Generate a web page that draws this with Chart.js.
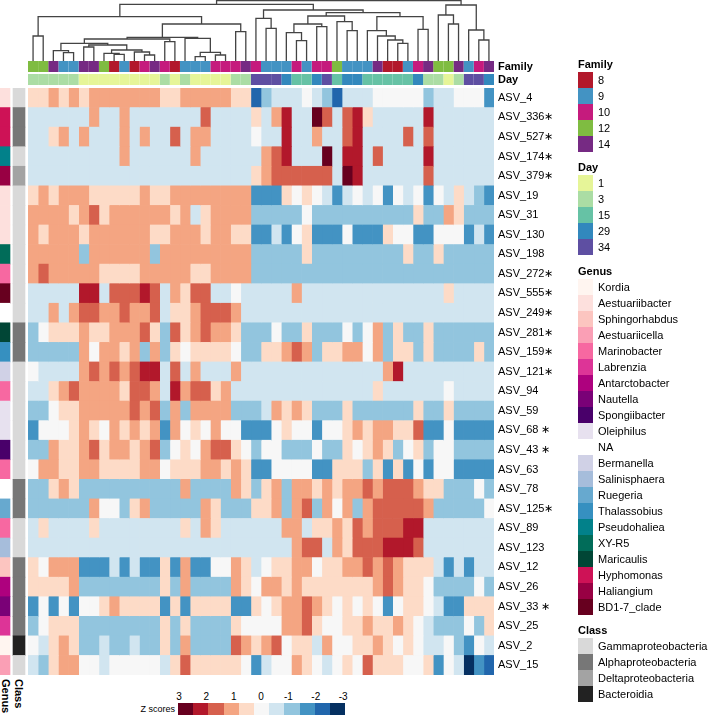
<!DOCTYPE html>
<html>
<head>
<meta charset="utf-8">
<title>ASV heatmap</title>
<script src="https://cdn.jsdelivr.net/npm/chart.js@4.4.1/dist/chart.umd.min.js"></script>
<style>
  body { margin: 0; background: #fff; }
  #page { position: relative; width: 710px; height: 715px; overflow: hidden;
          font-family: "Liberation Sans", Arial, Helvetica, sans-serif; color: #000; }
  #page canvas { position: absolute; }
  .lab { position: absolute; font-size: 11px; line-height: 16px; white-space: nowrap; }
  .ttl { position: absolute; font-size: 11px; font-weight: bold; line-height: 14px; white-space: nowrap; }
  .sw { position: absolute; width: 15px; height: 16px; }
  .vert { position: absolute; writing-mode: vertical-rl; font-size: 11px; font-weight: bold; line-height: 11px; }
  .key { position: absolute; font-size: 9px; line-height: 10px; white-space: nowrap; }
</style>
</head>
<body>
<div id="page">
  <canvas id="dendro" width="710" height="61" style="left:0;top:0"></canvas>
  <canvas id="annot" width="710" height="26" style="left:0;top:60px"></canvas>
  <canvas id="side" width="26" height="587" style="left:0;top:88px"></canvas>
  <canvas id="heat" width="710" height="587" style="left:0;top:88px"></canvas>
</div>
<script>
// rows (ASVs) top to bottom
const rowLabels = ["ASV_4", "ASV_336\u2217", "ASV_527\u2217", "ASV_174\u2217", "ASV_379\u2217", "ASV_19", "ASV_31",
  "ASV_130", "ASV_198", "ASV_272\u2217", "ASV_555\u2217", "ASV_249\u2217", "ASV_281\u2217", "ASV_159\u2217",
  "ASV_121\u2217", "ASV_94", "ASV_59", "ASV_68 \u2217", "ASV_43 \u2217", "ASV_63", "ASV_78", "ASV_125\u2217",
  "ASV_89", "ASV_123", "ASV_12", "ASV_26", "ASV_33 \u2217", "ASV_25", "ASV_2", "ASV_15"];

const rowGenus = ["Aestuariibacter", "Hyphomonas", "Hyphomonas", "Pseudohaliea", "Haliangium", "Aestuariibacter",
  "Aestuariibacter", "Aestuariibacter", "XY-R5", "Marinobacter", "BD1-7_clade", "NA", "Maricaulis", "Thalassobius",
  "Bermanella", "Marinobacter", "Oleiphilus", "Oleiphilus", "Spongiibacter", "Marinobacter", "NA", "Ruegeria",
  "Marinobacter", "Salinisphaera", "Sphingorhabdus", "Antarctobacter", "Nautella", "Labrenzia", "Kordia", "Aestuariicella"];

const rowClass = ["Gammaproteobacteria", "Alphaproteobacteria", "Alphaproteobacteria", "Gammaproteobacteria",
  "Deltaproteobacteria", "Gammaproteobacteria", "Gammaproteobacteria", "Gammaproteobacteria", "Gammaproteobacteria",
  "Gammaproteobacteria", "Gammaproteobacteria", "Gammaproteobacteria", "Alphaproteobacteria", "Alphaproteobacteria",
  "Gammaproteobacteria", "Gammaproteobacteria", "Gammaproteobacteria", "Gammaproteobacteria", "Gammaproteobacteria",
  "Gammaproteobacteria", "Alphaproteobacteria", "Alphaproteobacteria", "Gammaproteobacteria", "Gammaproteobacteria",
  "Alphaproteobacteria", "Alphaproteobacteria", "Alphaproteobacteria", "Alphaproteobacteria", "Bacteroidia",
  "Gammaproteobacteria"];

// samples (columns) left to right
const colFamily = ["12", "12", "14", "9", "9", "14", "14", "12", "8", "9", "8", "10", "14", "10", "8", "9", "9", "9",
  "10", "10", "10", "14", "10", "9", "9", "9", "10", "9", "10", "10", "12", "9", "9", "9", "14", "8", "8", "9", "10",
  "14", "12", "12", "14", "9", "10", "14"];
const colDay = ["3", "3", "3", "3", "3", "1", "1", "1", "1", "1", "1", "1", "1", "3", "1", "3", "1", "1", "1", "1",
  "3", "3", "34", "34", "34", "29", "15", "15", "29", "34", "15", "29", "29", "15", "15", "15", "15", "15", "29", "3",
  "3", "1", "3", "34", "34", "29"];

// z scores, one array per row
const zScores = [
  [.5,.5,1,.5,1,.5,1,1,1,1,1,1,1,.5,.5,1,1,1,1,1,.5,.5,-2,-1,-.5,-.5,-.5,0,-.5,-1,-2,-.5,-.5,-.5,0,0,0,0,0,-1,-.5,-.5,0,0,0,-1.5],
  [-.5,-.5,-.5,-.5,-.5,-.5,1,-.5,-.5,1,-.5,-.5,-.5,-.5,-.5,-.5,-.5,1.5,-.5,-.5,-.5,-.5,.5,-.5,1,2,-.5,-.5,3,1.5,-.5,1.5,2,.5,-.5,-.5,-.5,-.5,-.5,2,-.5,-.5,-.5,-.5,-.5,-.5],
  [-.5,-.5,.5,1,-.5,1,-.5,-.5,-.5,1,-.5,1,-.5,-.5,1.5,-.5,1,1,-.5,-.5,-.5,-.5,0,-.5,-.5,2,-.5,-.5,1,-.5,-.5,1.5,2,-.5,-.5,-.5,-.5,1.5,-.5,1.5,-.5,-.5,-.5,-.5,-.5,-.5],
  [-.5,-.5,-.5,-.5,-.5,-.5,-.5,-.5,-.5,1,-.5,-.5,-.5,-.5,-.5,-.5,1,-.5,-.5,-.5,-.5,-.5,-.5,1,1.5,2,-.5,-.5,-.5,3,-.5,2,2,-.5,1.5,-.5,-.5,-.5,-.5,2,-.5,-.5,-.5,-.5,-.5,-.5],
  [-.5,-.5,-.5,-.5,-.5,-.5,-.5,-.5,-.5,-.5,-.5,-.5,-.5,-.5,-.5,-.5,-.5,-.5,-.5,-.5,-.5,-.5,.5,1,1.5,1.5,1.5,1.5,1.5,1.5,-.5,3,2,-.5,-.5,-.5,-.5,-.5,-.5,1.5,-.5,-.5,-.5,-.5,-.5,-.5],
  [.5,1,.5,1,1,1,.5,.5,.5,.5,.5,1,.5,.5,1,1,1,1,1,1,1,1,-1.5,-1.5,-1.5,.5,0,.5,0,-.5,-1.5,-.5,0,-.5,0,-1.5,0,-.5,0,-1.5,0,-.5,.5,-.5,-1,-1.5],
  [1,1,1,1,.5,1,1.5,.5,1,1,1,1,1,1,.5,1,-.5,.5,1,1,1,1,-1,-1,-1,-1,-1,0,-1,-1,-1,-1,-1,-1,-1,-1,-1,-1,.5,-1,-1,1,.5,-1,-1,-1],
  [1,.5,1,1,1,.5,1,1,1,1,1,1,.5,.5,1,1,1,.5,1,1,.5,.5,-1.5,-1.5,-.5,-1.5,0,.5,-1.5,-1.5,-1.5,0,-1.5,-1.5,-1.5,.5,0,0,-1.5,-1.5,0,0,0,-1.5,-.5,-1.5],
  [1,1,1,1,1,-1,1,1,1,1,1,1,-1,1,1,1,1,1,1,1,1,1,-1,-1,-1,-1,-1,.5,-1,-1,-1,-1,-1,-1,-1,-1,-1,.5,-1,-1,.5,-1,-1,-1,-1,-1],
  [1,1.5,1,1,1,1,1,.5,.5,.5,.5,1,1,1,1,1,.5,.5,1,1,1,1,-1,-1,-1,-1,-1,-1,-1,-1,-1,-1,-1,-1,-1,-1,-1,-1,-1,-1,-1,-1,-1,-1,-1,-1],
  [-.5,-.5,-.5,-.5,-.5,2,2,-.5,1.5,1.5,1.5,2,1.5,-.5,1,.5,1.5,1.5,-.5,-.5,0,-.5,-.5,-.5,-.5,-.5,1,-.5,-.5,-.5,-.5,-.5,-.5,-.5,-.5,-.5,-.5,-.5,-.5,-.5,-.5,.5,-.5,-.5,-.5,-.5],
  [-.5,-.5,1,-.5,1,1.5,1.5,1,1,1.5,1,1,1.5,-.5,.5,.5,1,1.5,1.5,1.5,1,-.5,-.5,-.5,-.5,-.5,-.5,-.5,-.5,-.5,-.5,-.5,-.5,-.5,-.5,-.5,-.5,-.5,-.5,-.5,-.5,-.5,-.5,-.5,-.5,-.5],
  [-1,0,.5,.5,.5,1,.5,.5,1,1,1,1.5,.5,-1,1.5,.5,1,1.5,1,1,.5,-1,-1,-1,0,-1,-1,.5,-1,-1,-1,0,-1,0,1,-1,.5,-1,-1,.5,-1,-1,-1,-1,-1,-1],
  [-1,-1,-1,-1,-1,1,0,1,1,.5,1,-1,1,-1,.5,0,.5,.5,.5,.5,0,-1,-1,.5,.5,1,1.5,1,-1,.5,.5,1,1,0,1,-1,.5,.5,-1,.5,-1,-1,-1,-1,.5,-1],
  [0,-.5,-.5,-.5,-.5,1,1.5,1,1.5,1,1.5,2,2,-.5,1.5,-.5,1,-.5,-.5,-.5,1,-.5,-.5,-.5,-.5,-.5,-.5,-.5,-.5,-.5,-.5,-.5,-.5,-.5,-.5,1,2,-.5,-.5,-.5,-.5,-.5,-.5,-.5,-.5,-.5],
  [-.5,-.5,.5,1,1.5,1,1,1,1,.5,1.5,1.5,1,-.5,2,1,1.5,1.5,.5,1,-.5,-.5,-.5,-.5,-.5,-.5,-.5,-.5,-.5,-.5,-.5,-.5,-.5,-.5,.5,-.5,-.5,-.5,-.5,-.5,-.5,0,-.5,-.5,-.5,-.5],
  [-1,-1,0,.5,.5,1,1,1,1,1,1.5,1,1.5,-1,1,-1,1,1,1,1,-1,-1,-1,-.5,1,.5,1,.5,-1,-1,-1,.5,-1,-1,-1,-1,-1,-1,.5,-1,-1,.5,-1,-1,-1,-1],
  [-1.5,0,0,0,.5,1,.5,0,1,.5,1,.5,1,-1.5,1,0,.5,0,1,0,0,-1.5,-1.5,-1.5,0,.5,0,0,-1.5,0,0,.5,1,.5,1,1,.5,.5,1.5,-1.5,-1.5,0,-1.5,-1.5,-1.5,-1.5],
  [-1,-1,1,.5,.5,1,1.5,.5,1,1,.5,1,1.5,-1,0,.5,0,1,1.5,1.5,.5,0,-1,0,0,-1,-1,-1,0,-1,-1,.5,0,.5,1,.5,-1,0,.5,-1,0,0,-1,-1,-1,-1],
  [0,1,1,.5,.5,1,1,.5,.5,.5,.5,1,1,0,.5,.5,.5,1,1,.5,1,.5,-1.5,-1.5,0,0,0,0,-1.5,-1.5,.5,.5,.5,-1,.5,-1.5,.5,-1.5,0,-1.5,0,0,-1.5,-1.5,-1.5,-1.5],
  [-1,-1,.5,1,.5,-1,-1,-1,-1,-1,-1,-1,-1,-1,-1,1,-1,-1,-1,-1,1,.5,-1,.5,1,-1,1,1,.5,1,.5,1,1,1.5,1,1.5,1.5,1.5,1,.5,.5,-1,-1,-1,0,-1],
  [-1,-1,-1,-1,-1,-1,1,0,0,-1,.5,1,-1,-1,-1,-1,-1,1,.5,-1,-1,-1,.5,.5,1,-1,1,1.5,-1,1,0,1,-1,1,1.5,1.5,1.5,1.5,1.5,1,-1,-1,-1,-1,-1,0],
  [-.5,.5,-.5,-.5,-.5,-.5,.5,-.5,-.5,-.5,-.5,-.5,-.5,-.5,-.5,.5,-.5,1,.5,-.5,-.5,-.5,-.5,-.5,-.5,1,1,-.5,.5,.5,1,.5,1.5,1,1.5,1.5,1.5,2,2,-.5,-.5,-.5,-.5,-.5,-.5,-.5],
  [-.5,-.5,-.5,-.5,-.5,-.5,-.5,-.5,-.5,-.5,-.5,-.5,-.5,-.5,-.5,-.5,-.5,-.5,-.5,-.5,-.5,-.5,-.5,-.5,-.5,-.5,1,1.5,1.5,-.5,1,.5,1.5,1.5,1.5,2,2,2,1.5,-.5,-.5,-.5,-.5,-.5,-.5,-.5],
  [.5,0,1,1,1,-1.5,-1.5,-1.5,-.5,-1.5,-.5,-1.5,-1.5,.5,-1.5,1,-1.5,-1.5,0,0,1,.5,-.5,0,.5,.5,1,1,0,.5,.5,1,1,1.5,1,1.5,1,.5,.5,.5,-.5,-1.5,-.5,-1.5,-.5,-.5],
  [.5,.5,.5,.5,1,-1,-1,-1,-1,-1,-1,-1,-1,.5,-1,1,-1,-1,-1,-1,1,.5,0,1,1,.5,1,.5,.5,.5,.5,.5,.5,.5,1,1.5,1,.5,.5,0,-1,-1,-1,-1,0,-1],
  [-1.5,0,-1.5,0,-1.5,0,0,.5,1,.5,.5,.5,.5,-1.5,.5,-1.5,.5,.5,.5,.5,-1.5,-1.5,.5,0,.5,1,1,1.5,1,.5,0,.5,0,.5,0,-1.5,0,.5,.5,0,-.5,-1.5,-1.5,.5,.5,.5],
  [-1,0,.5,.5,.5,-1,-1,-1,-1,-1,-1,-1,-1,.5,-1,.5,-1,-1,-1,-1,.5,0,0,0,0,1,1,1.5,.5,0,0,.5,.5,1,.5,.5,1,.5,0,-.5,-1,-1,-1,0,-1,.5],
  [0,-.5,.5,1,.5,-1,-1,-.5,-1,-1,-.5,-1,-1,.5,-1,1,-1,-1,-1,-1,1.5,1,.5,1,1.5,0,.5,.5,-.5,1,0,0,.5,.5,1,.5,0,.5,0,-.5,-.5,0,-1,-1.5,0,-.5],
  [-.5,-1,.5,1,1,0,0,-.5,0,0,0,0,0,-.5,.5,1.5,.5,.5,.5,.5,.5,0,-1.5,-.5,0,0,1,.5,0,-.5,0,.5,0,1.5,.5,.5,.5,0,0,.5,-1.5,0,-.5,-3,-1.5,-2]
];

// column dendrogram: [height, left, right], leaves are column indexes
const colTree = [59.5,
  [55.7,
    [43.3,
      [24, 0, 1],
      [36,
        [22.7,
          [21,
            [16.7,
              [9.3, 2, [7.3, 3, 4]],
              [15, [13, 5, 6], [10, [6.7, 7, [5.7, 8, 9]], [8, 10, [5, 11, 12]]]]],
            [18.3, 13, 14]],
          [21.7, 15, [7.7, [3.3, 16, 17], [5, 18, 19]]]],
        [28.3, 20, 21]]],
    [50,
      [41.7, 22, [31.7, 23, 24]],
      [47.3,
        [44,
          [36, [27.3, 25, [19.3, 26, 27]], [33.3, 28, 29]],
          [38.3, 30, [29.3, 31, 32]]],
        [43.3,
          [29.3, 33, [24, 34, [20, 35, [16.7, 36, 37]]]],
          [30.7, 38, 39]]]]],
  [55, [45, 40, [36, 41, 42]], [30, 43, [20, 44, 45]]]];

// legend levels
const familyLevels = ["8", "9", "10", "12", "14"];
const familyColors = ["#b2182b", "#4393c3", "#c51b7d", "#7fbc41", "#762a83"];
const dayLevels = ["1", "3", "15", "29", "34"];
const dayColors = ["#e6f598", "#abdda4", "#66c2a5", "#3288bd", "#5e4fa2"];
const genusLevels = ["Kordia", "Aestuariibacter", "Sphingorhabdus", "Aestuariicella", "Marinobacter", "Labrenzia",
  "Antarctobacter", "Nautella", "Spongiibacter", "Oleiphilus", "NA", "Bermanella", "Salinisphaera", "Ruegeria",
  "Thalassobius", "Pseudohaliea", "XY-R5", "Maricaulis", "Hyphomonas", "Haliangium", "BD1-7_clade"];
const genusColors = ["#fff5f0", "#fde0dd", "#fcc5c0", "#fa9fb5", "#f768a1", "#dd3497", "#ae017e", "#7a0177",
  "#49006a", "#e7e1ef", "#ffffff", "#d0d1e6", "#a6bddb", "#67a9cf", "#3690c0", "#02818a", "#016c59", "#014636",
  "#ce1256", "#980043", "#67001f"];
const classLevels = ["Gammaproteobacteria", "Alphaproteobacteria", "Deltaproteobacteria", "Bacteroidia"];
const classColors = ["#d9d9d9", "#777777", "#a3a3a3", "#222222"];

const zLevels = [3, 2, 1.5, 1, 0.5, 0, -0.5, -1, -1.5, -2, -3];
const zPalette = ["#67001f", "#b2182b", "#d6604d", "#f4a582", "#fddbc7", "#f7f7f7", "#d1e5f0", "#92c5de", "#4393c3", "#2166ac", "#053061"];
const keyTicks = [3, 2, 1, 0, -1, -2, -3];

const FONT = "'Liberation Sans', Arial, Helvetica, sans-serif";
const nCols = colFamily.length;

function zColor(v) {
  let best = 0;
  zLevels.forEach((l, i) => { if (Math.abs(l - v) < Math.abs(zLevels[best] - v)) best = i; });
  return zPalette[best];
}
const famColor = f => familyColors[familyLevels.indexOf(f)];
const dayColor = d => dayColors[dayLevels.indexOf(d)];

const base = {
  responsive: false,
  animation: false,
  events: [],
  plugins: { legend: { display: false }, tooltip: { enabled: false } }
};

// right-hand label axis: fixed width, no extra vertical padding
const labelAxis = (bold) => ({
  stacked: true, position: "right",
  grid: { display: false, drawTicks: false }, border: { display: false },
  ticks: { color: "#000", padding: 4, autoSkip: false, font: { family: FONT, size: 11, weight: bold ? "bold" : "normal" } },
  afterFit: s => { s.width = 216; s.paddingTop = 0; s.paddingBottom = 0; }
});

// DENDROGRAMA
const dendroPts = [];
function walk(node) {
  if (typeof node === "number") return { x: node, h: -1 };
  const [h, a, b] = node;
  const L = walk(a), R = walk(b);
  dendroPts.push({ x: L.x, y: L.h }, { x: L.x, y: h }, { x: R.x, y: h }, { x: R.x, y: R.h }, { x: null, y: null });
  return { x: (L.x + R.x) / 2, h: h };
}
walk(colTree);

new Chart(document.getElementById("dendro"), {
  type: "scatter",
  data: {
    datasets: [{
      data: dendroPts,
      showLine: true,
      spanGaps: false,
      borderColor: "#444444",
      borderWidth: 1.3,
      pointRadius: 0,
      clip: false
    }]
  },
  options: {
    ...base,
    layout: { padding: { left: 28, right: 216, top: 0, bottom: 0 } },
    scales: {
      x: { type: "linear", min: -0.5, max: nCols - 0.5, display: false },
      y: { type: "linear", min: -1, max: 60, display: false }
    }
  }
});

// FAMILY / DAY
new Chart(document.getElementById("annot"), {
  type: "bar",
  data: {
    labels: ["Family", "Day"],
    datasets: colFamily.map((f, c) => ({
      data: [1, 1],
      backgroundColor: [famColor(f), dayColor(colDay[c])],
      borderWidth: 0,
      barPercentage: 11 / 13,
      categoryPercentage: 1
    }))
  },
  options: {
    ...base,
    indexAxis: "y",
    layout: { padding: { left: 28 } },
    scales: {
      x: { stacked: true, min: 0, max: nCols, display: false },
      y: labelAxis(true)
    }
  }
});

// HEATMAP
new Chart(document.getElementById("heat"), {
  type: "bar",
  data: {
    labels: rowLabels,
    datasets: colFamily.map((_, c) => ({
      data: zScores.map(() => 1),
      backgroundColor: zScores.map(r => zColor(r[c])),
      borderWidth: 0,
      barPercentage: 1,
      categoryPercentage: 1
    }))
  },
  options: {
    ...base,
    indexAxis: "y",
    layout: { padding: { left: 28 } },
    scales: {
      x: { stacked: true, min: 0, max: nCols, display: false },
      y: labelAxis(false)
    }
  }
});

// GENUS / CLASS (row annotation)
new Chart(document.getElementById("side"), {
  type: "bar",
  data: {
    labels: rowLabels,
    datasets: [
      { data: rowGenus.map(() => [0, 10]), backgroundColor: rowGenus.map(g => genusColors[genusLevels.indexOf(g)]) },
      { data: rowClass.map(() => [13, 25]), backgroundColor: rowClass.map(k => classColors[classLevels.indexOf(k)]) }
    ].map(d => ({ ...d, borderWidth: 0, barPercentage: 1, categoryPercentage: 1, grouped: false }))
  },
  options: {
    ...base,
    indexAxis: "y",
    scales: {
      x: { min: 0, max: 26, display: false },
      y: { display: false }
    }
  }
});

// LEGENDS (HTML)
const page = document.getElementById("page");
function add(cls, text, css) {
  const el = document.createElement("div");
  el.className = cls;
  if (text !== null) el.textContent = text;
  Object.assign(el.style, css);
  page.appendChild(el);
  return el;
}
function legendGroup(title, levels, colors, boxTop) {
  add("ttl", title, { left: "578px", top: (boxTop - 15) + "px" });
  levels.forEach((lv, i) => {
    add("sw", null, { left: "578px", top: (boxTop + i * 16) + "px", background: colors[i] });
    add("lab", lv, { left: "598px", top: (boxTop + i * 16) + "px" });
  });
}
legendGroup("Family", familyLevels, familyColors, 71.7);
legendGroup("Day", dayLevels, dayColors, 175.3);
legendGroup("Genus", genusLevels, genusColors, 278.7);
legendGroup("Class", classLevels, classColors, 638.3);

add("vert", "Genus", { left: "0px", top: "679px" });
add("vert", "Class", { left: "13px", top: "679px" });

// color key
add("key", "Z scores", { left: "100px", width: "75px", textAlign: "right", top: "704px" });
zPalette.forEach((c, i) => {
  add("sw", null, { left: (178 + i * 15.2) + "px", top: "703px", width: "15.3px", height: "13px", background: c });
});
keyTicks.forEach(v => {
  add("key", String(v), { left: (179 + (3 - v) * 27.35 - 10) + "px", width: "20px", textAlign: "center", top: "692px", fontSize: "10px" });
});
</script>
</body>
</html>
